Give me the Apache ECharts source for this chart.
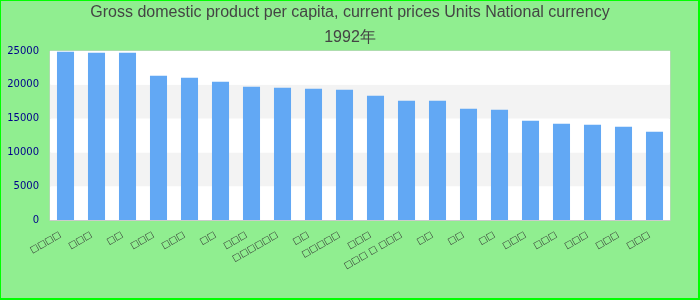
<!DOCTYPE html>
<html>
<head>
<meta charset="utf-8">
<script src="https://cdn.jsdelivr.net/npm/echarts@6/dist/echarts.min.js"></script>
<style>
html,body{margin:0;padding:0;background:#90ee90;}
#frame{position:absolute;left:0;top:0;width:700px;height:300px;box-sizing:border-box;border-style:solid;border-color:#00ff00;border-width:1px 2px 2px 1px;}
#chart{position:absolute;left:0;top:0;width:700px;height:300px;}
</style>
</head>
<body>
<div id="chart"></div>
<div id="frame"></div>
<script>
var titleText = "Gross domestic product per capita, current prices Units National currency\n1992年";
var categories = [
  "□□□□", "□□□", "□□", "□□□", "□□□", "□□", "□□□", "□□□□□□", "□□", "□□□□□",
  "□□□", "□□□ □ □□□", "□□", "□□", "□□", "□□□", "□□□", "□□□", "□□□", "□□□"
];
var values = [
  24900, 24750, 24750, 21340, 21040, 20450, 19710, 19560, 19410, 19270,
  18380, 17640, 17640, 16450, 16300, 14670, 14230, 14080, 13780, 13040
];
var yTicks = [0, 5000, 10000, 15000, 20000, 25000];

var chart = echarts.init(document.getElementById('chart'));
chart.setOption({
  backgroundColor: '#90ee90',
  animation: false,
  title: {
    text: titleText,
    left: 'center',
    top: 0,
    padding: 0,
    textStyle: {
      fontFamily: 'Liberation Sans',
      fontSize: 16,
      fontWeight: 'normal',
      color: '#444444',
      lineHeight: 25
    }
  },
  grid: {
    left: 50, right: 30, top: 51, bottom: 80,
    show: true,
    backgroundColor: '#ffffff',
    borderColor: '#cccccc',
    borderWidth: 1
  },
  xAxis: {
    type: 'category',
    data: categories,
    axisLine: { lineStyle: { color: '#cccccc' } },
    axisTick: { show: false },
    axisLabel: {
      interval: 0,
      rotate: 30,
      margin: 11,
      padding: [0, 6, 0, 0],
      color: '#333333',
      fontFamily: 'DejaVu Sans',
      fontSize: 9
    }
  },
  yAxis: {
    type: 'value',
    min: yTicks[0],
    max: yTicks[yTicks.length - 1],
    interval: yTicks[1] - yTicks[0],
    axisLine: { show: false },
    axisTick: { show: false },
    splitLine: { show: false },
    splitArea: { show: true, areaStyle: { color: ['#ffffff', '#f3f3f3'] } },
    axisLabel: {
      margin: 11,
      color: '#00008b',
      fontFamily: 'DejaVu Sans',
      fontSize: 10,
      formatter: function (v) { return String(v); }
    }
  },
  series: [{
    type: 'bar',
    data: values,
    barWidth: '55%',
    itemStyle: { color: '#62a8f4' }
  }]
});
</script>
</body>
</html>
